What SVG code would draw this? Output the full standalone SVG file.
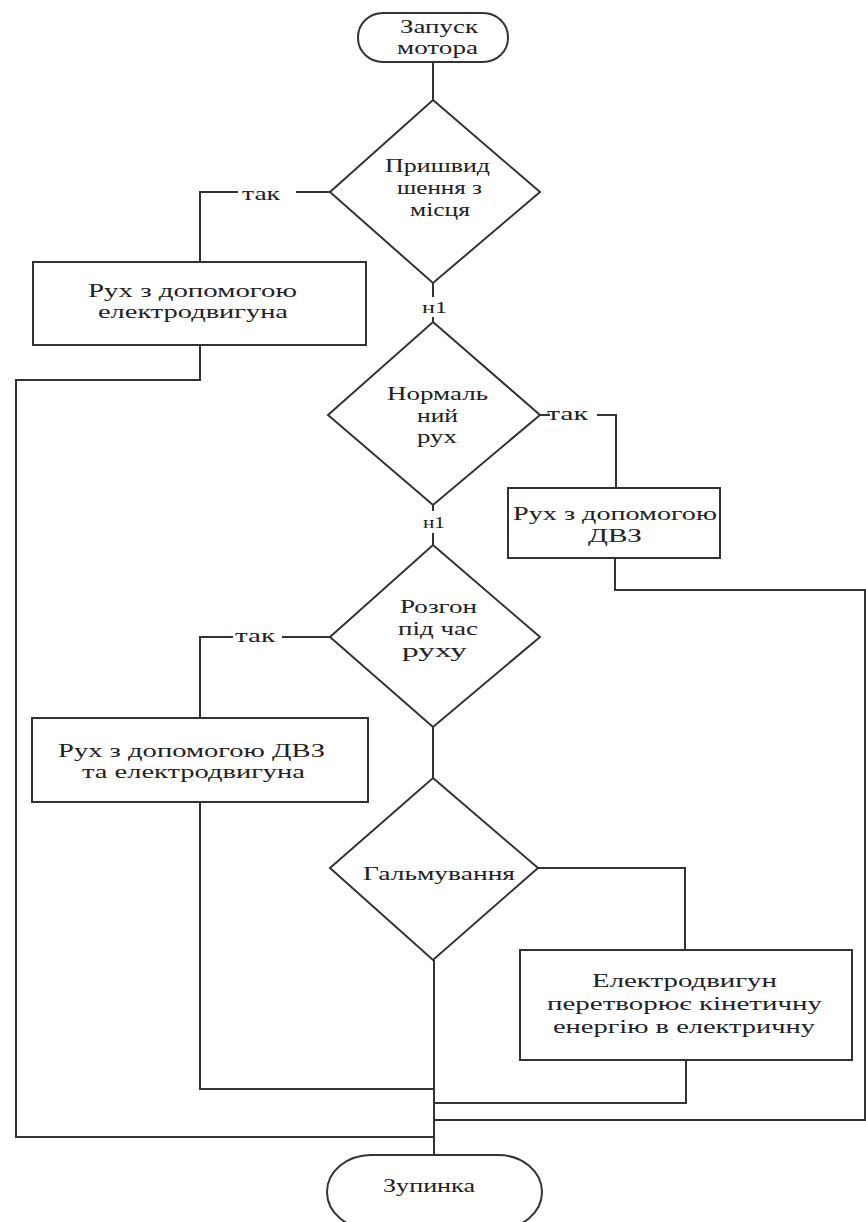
<svg xmlns="http://www.w3.org/2000/svg" width="866" height="1222" viewBox="0 0 866 1222">
<style>
.s{fill:#fff;stroke:#333;stroke-width:2}
.c{fill:none;stroke:#333;stroke-width:2}
.t{font-family:"Liberation Serif","Times New Roman",serif;font-size:19px;fill:#222}
.m{font-family:"Liberation Serif","Times New Roman",serif;font-size:16px;fill:#222}
</style>
<rect width="866" height="1222" fill="#fff"/>
<g id="connectors">
<path class="c" d="M433,62V100"/>
<path class="c" d="M330,192H296M238,192H200V262"/>
<path class="c" d="M200,345V380H16V1137H434"/>
<path class="c" d="M433,283V297M433,317V322"/>
<path class="c" d="M540,415H550M597,415H616V488"/>
<path class="c" d="M615,558V590H865V1120H434"/>
<path class="c" d="M433,505V511M433,533V545"/>
<path class="c" d="M330,637H282M233,637H200V718"/>
<path class="c" d="M200,802V1089H434"/>
<path class="c" d="M433,727V778"/>
<path class="c" d="M538,868H685V950"/>
<path class="c" d="M686,1060V1103H434"/>
<path class="c" d="M434,960V1155" stroke-width="3.5"/>
</g>
<g id="start">
<rect class="s" x="358" y="13" width="150" height="49" rx="25" ry="24"/>
<text class="t" x="400" y="33" textLength="78" lengthAdjust="spacingAndGlyphs">Запуск</text>
<text class="t" x="397" y="54" textLength="81" lengthAdjust="spacingAndGlyphs">мотора</text>
</g>
<g id="d1">
<polygon class="s" points="433,100 540,192 433,283 330,192"/>
<text class="t" x="385" y="172" textLength="105" lengthAdjust="spacingAndGlyphs">Пришвид</text>
<text class="t" x="397" y="194" textLength="85" lengthAdjust="spacingAndGlyphs">шення з</text>
<text class="t" x="410" y="216" textLength="60" lengthAdjust="spacingAndGlyphs">місця</text>
</g>
<g id="labels">
<text class="t" x="242" y="200" textLength="38" lengthAdjust="spacingAndGlyphs">так</text>
<text class="m" x="422" y="313" textLength="25" lengthAdjust="spacingAndGlyphs">н1</text>
<text class="t" x="547" y="420" textLength="41" lengthAdjust="spacingAndGlyphs">так</text>
<text class="m" x="423" y="528" textLength="22" lengthAdjust="spacingAndGlyphs">н1</text>
<text class="t" x="235" y="642" textLength="40" lengthAdjust="spacingAndGlyphs">так</text>
</g>
<g id="b1">
<rect class="s" x="33" y="262" width="333" height="83"/>
<text class="t" x="88" y="297" textLength="209" lengthAdjust="spacingAndGlyphs">Рух з допомогою</text>
<text class="t" x="98" y="318" textLength="190" lengthAdjust="spacingAndGlyphs">електродвигуна</text>
</g>
<g id="d2">
<polygon class="s" points="433,322 540,415 433,505 328,415"/>
<text class="t" x="387" y="400" textLength="101" lengthAdjust="spacingAndGlyphs">Нормаль</text>
<text class="t" x="417" y="422" textLength="41" lengthAdjust="spacingAndGlyphs">ний</text>
<text class="t" x="417" y="443" textLength="40" lengthAdjust="spacingAndGlyphs">рух</text>
</g>
<g id="b2">
<rect class="s" x="508" y="488" width="212" height="70"/>
<text class="t" x="513" y="520" textLength="204" lengthAdjust="spacingAndGlyphs">Рух з допомогою</text>
<text class="t" x="588" y="542" textLength="54" lengthAdjust="spacingAndGlyphs">ДВЗ</text>
</g>
<g id="d3">
<polygon class="s" points="433,545 540,637 433,727 330,637"/>
<text class="t" x="400" y="613" textLength="77" lengthAdjust="spacingAndGlyphs">Розгон</text>
<text class="t" x="398" y="635" textLength="80" lengthAdjust="spacingAndGlyphs">під час</text>
<text class="t" x="402" y="657" textLength="65" lengthAdjust="spacingAndGlyphs">руху</text>
</g>
<g id="b3">
<rect class="s" x="32" y="718" width="336" height="84"/>
<text class="t" x="58" y="757" textLength="267" lengthAdjust="spacingAndGlyphs">Рух з допомогою ДВЗ</text>
<text class="t" x="82" y="778" textLength="223" lengthAdjust="spacingAndGlyphs">та електродвигуна</text>
</g>
<g id="d4">
<polygon class="s" points="433,778 538,868 433,960 330,868"/>
<text class="t" x="363" y="880" textLength="152" lengthAdjust="spacingAndGlyphs">Гальмування</text>
</g>
<g id="b4">
<rect class="s" x="520" y="950" width="332" height="110"/>
<text class="t" x="592" y="987" textLength="185" lengthAdjust="spacingAndGlyphs">Електродвигун</text>
<text class="t" x="547" y="1010" textLength="275" lengthAdjust="spacingAndGlyphs">перетворює кінетичну</text>
<text class="t" x="553" y="1033" textLength="262" lengthAdjust="spacingAndGlyphs">енергію в електричну</text>
</g>
<g id="end">
<rect class="s" x="327" y="1155" width="215" height="74" rx="44" ry="37"/>
<text class="t" x="383" y="1192" textLength="92" lengthAdjust="spacingAndGlyphs">Зупинка</text>
</g>
</svg>
